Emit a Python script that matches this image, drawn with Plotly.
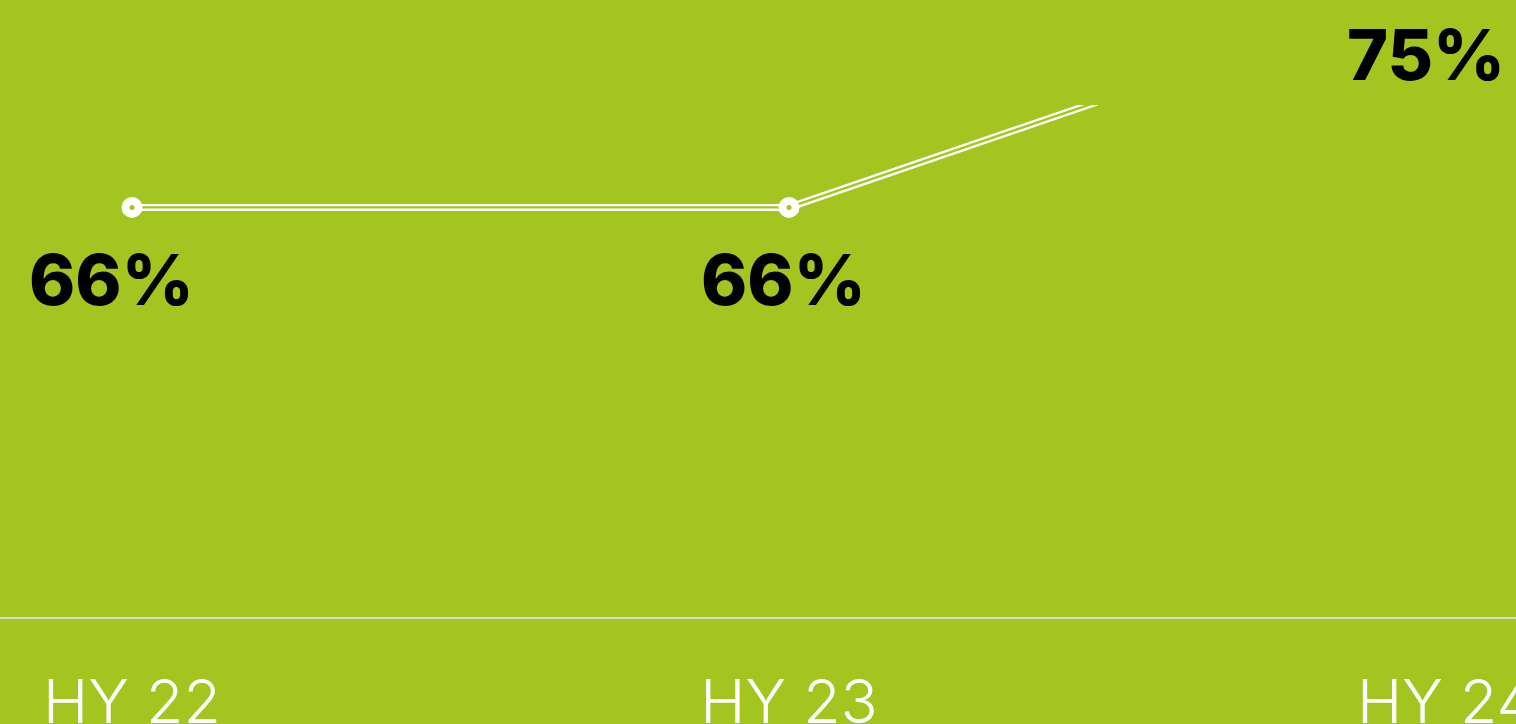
import plotly.graph_objects as go

categories = ["HY 22", "HY 23", "HY 24"]
values = [66, 66, 75]
labels = ["66%", "66%", "75%"]

BG = "#A4C51F"
label_xshift = [-21, -6, -20]

xs = list(range(len(categories)))
y_min, y_max = 49.6, 70.1

fig = go.Figure()
# outer white line
fig.add_trace(go.Scatter(x=xs, y=values, mode="lines",
                         line=dict(color="white", width=7), hoverinfo="skip"))
# inner gap to make double line
fig.add_trace(go.Scatter(x=xs, y=values, mode="lines",
                         line=dict(color=BG, width=2.4), hoverinfo="skip"))
# markers (only visible ones within range)
fig.add_trace(go.Scatter(x=xs[:2], y=values[:2], mode="markers",
                         marker=dict(color="white", size=21, line=dict(width=0)),
                         hoverinfo="skip"))
fig.add_trace(go.Scatter(x=xs[:2], y=values[:2], mode="markers",
                         marker=dict(color=BG, size=5, line=dict(width=0)),
                         hoverinfo="skip"))

for i, (v, lab) in enumerate(zip(values, labels)):
    frac = (v - y_min) / (y_max - y_min)
    fig.add_annotation(x=xs[i], xref="x", y=frac, yref="paper",
                       text=lab, showarrow=False,
                       yanchor="middle", xanchor="center",
                       xshift=label_xshift[i], yshift=-72,
                       font=dict(family="Inter", size=70, color="black", weight=800))

fig.update_layout(
    width=1516, height=724,
    margin=dict(l=0, r=0, t=105, b=107, autoexpand=False),
    paper_bgcolor=BG, plot_bgcolor=BG,
    showlegend=False,
    xaxis=dict(range=[-132/657, (1516-132)/657], tickvals=xs, ticktext=categories,
               showgrid=False, zeroline=False, showline=True,
               linecolor="#d8d8d8", linewidth=1.5, automargin=False,
               ticks="outside", ticklen=31, tickcolor="rgba(0,0,0,0)",
               ticklabeloverflow="allow",
               tickfont=dict(family="Inter", size=61, color="white", weight=300),
               fixedrange=True),
    yaxis=dict(range=[y_min, y_max], visible=False, fixedrange=True),
)

fig.write_html("out.html")
